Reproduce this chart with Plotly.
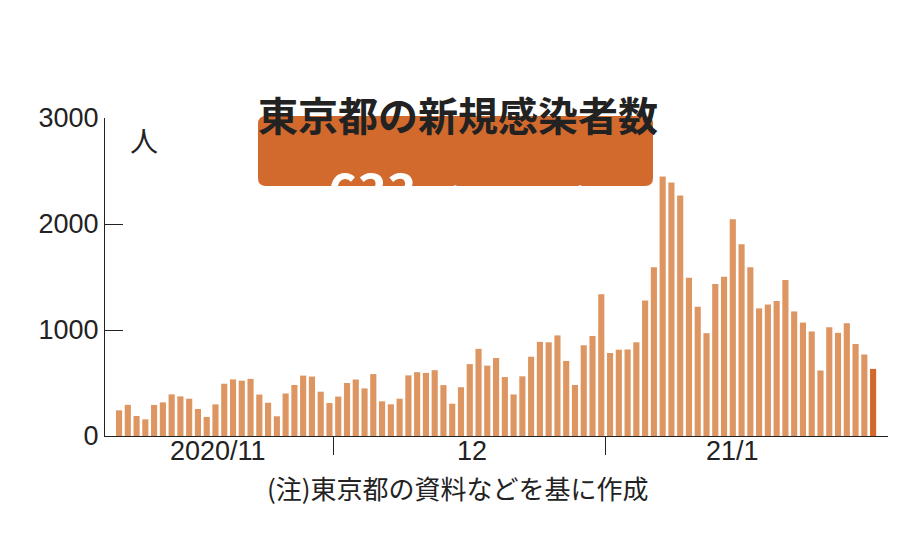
import plotly.graph_objects as go

dates = ["11/%d" % d for d in range(6, 31)] + ["12/%d" % d for d in range(1, 32)] + ["1/%d" % d for d in range(1, 32)]
cases = [242, 294, 189, 157, 293, 317, 393, 374, 352, 255, 180, 298, 493, 534, 522, 539, 391, 314, 186, 401, 481, 570, 561, 418, 311,
         372, 500, 533, 449, 584, 327, 299, 352, 572, 602, 595, 621, 480, 305, 460, 678, 822, 664, 736, 556, 392, 563, 748, 888, 884, 949, 708, 481, 856, 944, 1337,
         783, 814, 816, 884, 1278, 1591, 2447, 2392, 2268, 1494, 1219, 970, 1433, 1502, 2044, 1809, 1592, 1204, 1240, 1274, 1471, 1175, 1070, 986, 618, 1026, 973, 1064, 868, 769, 633]
month_labels = ["2020/11", "12", "21/1"]
yticks = [0, 1000, 2000, 3000]

idx = list(range(len(cases)))
colors = ["#dd9562"] * (len(cases) - 1) + ["#d4692c"]
FONT = "Noto Sans CJK JP"

fig = go.Figure(go.Bar(x=idx, y=cases, marker_color=colors, marker_line_width=0))

L, R, T, B = 97, 880, 110, 428
def px(x): return (x - L) / (R - L)
def py(y): return (B - y) / (B - T)

x0, x1, y0, y1, r = 250, 645, 108, 178, 8
path = (f"M {px(x0+r)} {py(y0)} L {px(x1-r)} {py(y0)} Q {px(x1)} {py(y0)} {px(x1)} {py(y0+r)} "
        f"L {px(x1)} {py(y1-r)} Q {px(x1)} {py(y1)} {px(x1-r)} {py(y1)} L {px(x0+r)} {py(y1)} "
        f"Q {px(x0)} {py(y1)} {px(x0)} {py(y1-r)} L {px(x0)} {py(y0+r)} Q {px(x0)} {py(y0)} {px(x0+r)} {py(y0)} Z")

fig.update_layout(
    width=900, height=558, plot_bgcolor="white", paper_bgcolor="white",
    margin=dict(l=L, r=900 - R, t=T, b=558 - B, autoexpand=False),
    showlegend=False, bargap=0.3,
    font=dict(family=FONT, color="#222"),
    xaxis=dict(range=[-1.6, 87.7], tickvals=[24.5, 55.5], ticktext=["", ""], ticks="outside",
               ticklen=18, tickcolor="#222", showline=True, linecolor="#222", showgrid=False, zeroline=False),
    yaxis=dict(range=[0, 3000], tickvals=yticks, ticks="inside", ticklen=18, tickcolor="#222",
               showline=True, linecolor="#222", showgrid=False, zeroline=False,
               tickfont=dict(family="Liberation Sans Narrow, Liberation Sans", size=27, color="#222")),
    shapes=[dict(type="path", path=path, xref="paper", yref="paper", fillcolor="#d26a2e", line_width=0, layer="below")],
)
fig.add_annotation(x=px(450), y=py(75), xref="paper", yref="paper", showarrow=False,
                   text="<b>東京都の新規感染者数</b>", font=dict(size=40, family=FONT, color="#222"))
fig.add_annotation(x=px(450), y=py(143), xref="paper", yref="paper", showarrow=False,
                   text="<b><span style='font-size:50px'>633</span>人(1月31日)</b>",
                   font=dict(size=31, family=FONT, color="white"))
fig.add_annotation(x=px(120), y=py(110), xref="paper", yref="paper", showarrow=False, xanchor="left",
                   text="人", font=dict(size=28, family=FONT, color="#222"))
for xv, lab in zip([11.3, 40.3, 70.0], month_labels):
    fig.add_annotation(x=xv, y=py(460), xref="x", yref="paper", showarrow=False, text=lab,
                       font=dict(size=27, family="Liberation Sans Narrow, Liberation Sans", color="#222"))
fig.add_annotation(x=px(450), y=py(500), xref="paper", yref="paper", showarrow=False,
                   text="(注)東京都の資料などを基に作成", font=dict(size=26, family=FONT, color="#222"))
fig.write_html("out.html")
